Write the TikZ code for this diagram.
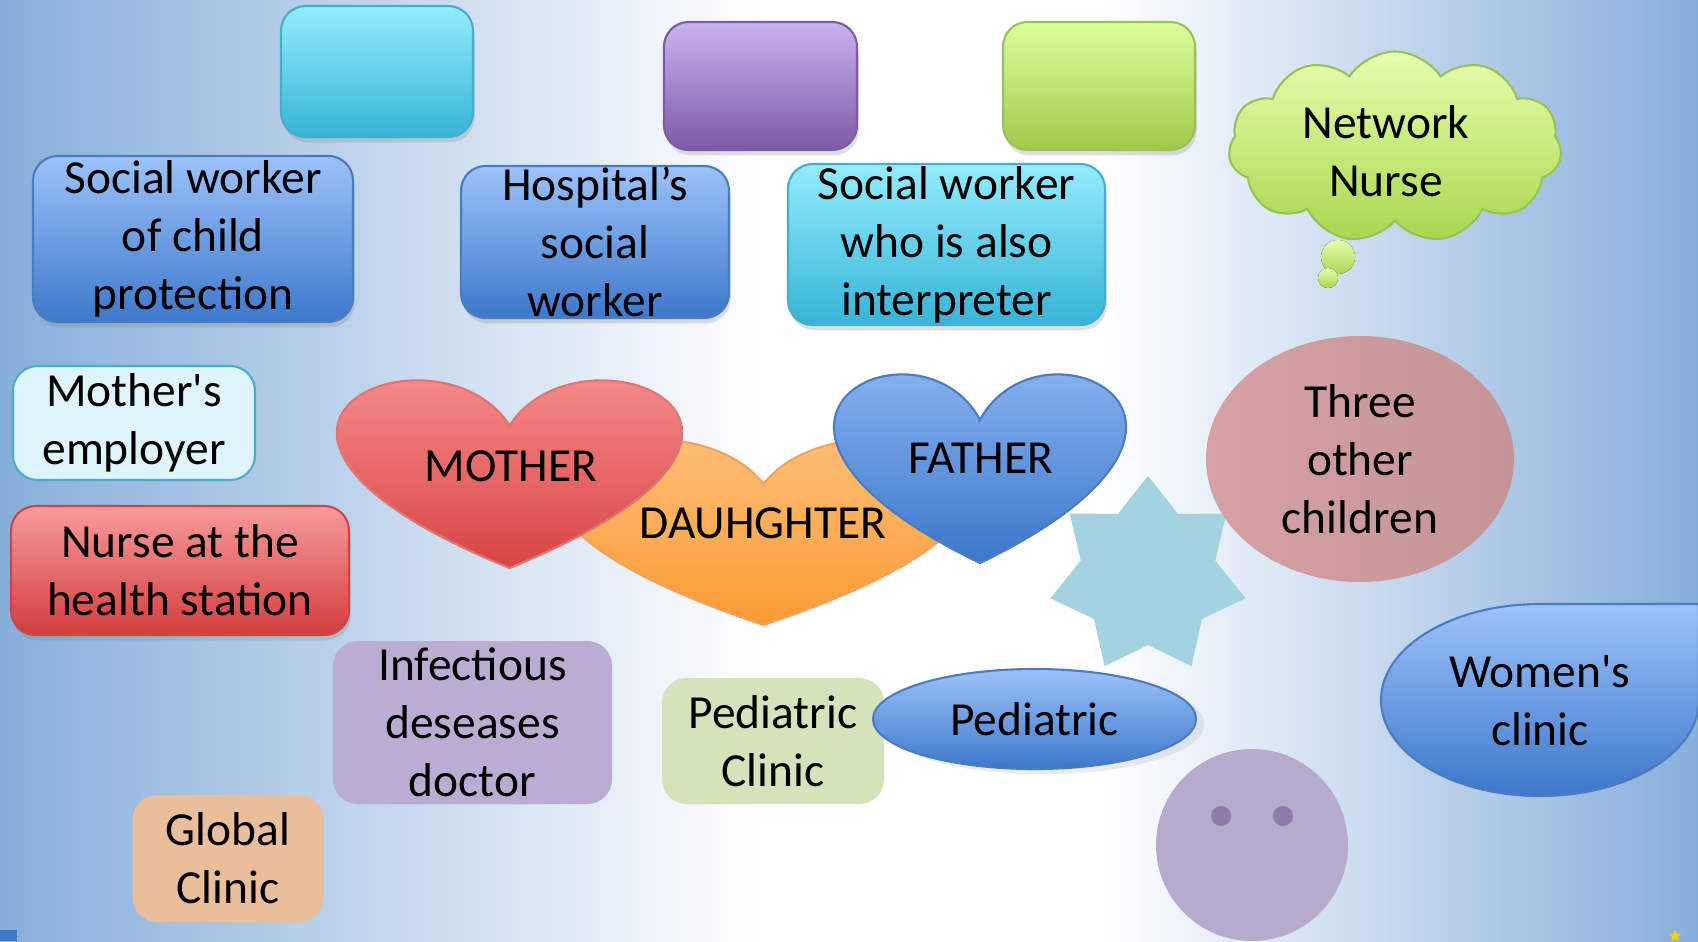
\documentclass[tikz,border=0pt]{standalone}
\usepackage{fontspec}
\setmainfont{Carlito}
\usetikzlibrary{shapes.geometric,shapes.symbols,shadows}

\definecolor{bgblue}{HTML}{86AEDA}
\definecolor{bgmid}{HTML}{C9DBEE}
\definecolor{bluetop}{HTML}{9CC2F9}
\definecolor{bluebot}{HTML}{3D78CB}
\definecolor{blueline}{HTML}{4A7CBF}
\definecolor{cyantop}{HTML}{94ECFC}
\definecolor{cyanbot}{HTML}{36B4D6}
\definecolor{cyanline}{HTML}{45AECD}
\definecolor{purptop}{HTML}{C9B3EE}
\definecolor{purpbot}{HTML}{7D59A8}
\definecolor{purpline}{HTML}{7A5CA5}
\definecolor{greentop}{HTML}{DCFE9E}
\definecolor{greenbot}{HTML}{9FCA48}
\definecolor{greenline}{HTML}{98C256}
\definecolor{redtop}{HTML}{F89B9B}
\definecolor{redbot}{HTML}{D23D3D}
\definecolor{redline}{HTML}{C94747}
\definecolor{mtop}{HTML}{FF9F9F}
\definecolor{mbot}{HTML}{D84545}
\definecolor{mline}{HTML}{E07575}
\definecolor{dtop}{HTML}{FFCB8E}
\definecolor{dbot}{HTML}{F99A33}
\definecolor{dline}{HTML}{F0A260}
\definecolor{empfill}{HTML}{DDF4FA}
\definecolor{infect}{HTML}{BAADD1}
\definecolor{pedgreen}{HTML}{D5E3BB}
\definecolor{tan}{HTML}{E8BE9B}
\definecolor{rose}{HTML}{D5A1A4}
\definecolor{starblue}{HTML}{A3D3E0}
\definecolor{smile}{HTML}{B6AACD}
\definecolor{eye}{HTML}{8F7BA8}
\definecolor{cloudtop}{HTML}{E6FEAE}
\definecolor{cloudbot}{HTML}{A8D74E}
\definecolor{gold}{HTML}{F2CE1B}

% heart: [style]{centre x}{top y}{width}{height}
\newcommand{\heartshape}[5][]{%
  \path[#1, shift={(#2,#3)}, xscale=#4, yscale=#5] (0,-0.25)
    .. controls (0.2083,0.3333) and (1.0208,-0.25) .. (0,-1)
    .. controls (-1.0208,-0.25) and (-0.2083,0.3333) .. cycle;}

\tikzset{
  every node/.style={font=\fontsize{13.5}{16.5}\selectfont, align=center, inner sep=0pt},
  wh/.style 2 args={minimum width={#1*0.01cm}, minimum height={#2*0.01cm}},
  box/.style={rectangle, rounded corners=7pt},
  shadebox/.style n args={3}{box, top color=#1, bottom color=#2, draw=#3, line width=0.6pt,
    drop shadow={opacity=0.25, shadow xshift=0.5pt, shadow yshift=-1.5pt}},
  hearty/.style n args={3}{top color=#1, bottom color=#2, draw=#3, line width=0.6pt}
}

\begin{document}
\begin{tikzpicture}[x=0.01cm, y=0.01cm]
  \useasboundingbox (0,0) rectangle (1698,941);
  % background
  \shade[left color=bgblue, middle color=bgmid, right color=white] (0,0) rectangle (760,941);
  \fill[white] (760,0) rectangle (1100,941);
  \shade[left color=white, middle color=bgmid, right color=bgblue] (1100,0) rectangle (1698,941);
  \fill[bluebot] (0,0) rectangle (17,11);

  % top row
  \node[shadebox={cyantop}{cyanbot}{cyanline}, wh={192}{131}] (topcyan) at (377,869.5) {};
  \node[shadebox={purptop}{purpbot}{purpline}, wh={193}{128}] (toppurple) at (760.5,855) {};
  \node[shadebox={greentop}{greenbot}{greenline}, wh={192}{128}] (topgreen) at (1099,855) {};

  \node[shadebox={bluetop}{bluebot}{blueline}, wh={320}{166}] (swchild) at (193,702)
    {Social worker\\of child\\protection};
  \node[shadebox={bluetop}{bluebot}{blueline}, wh={268}{152}] (hospital) at (595,699)
    {Hospital’s\\social\\worker};
  \node[shadebox={cyantop}{cyanbot}{cyanline}, wh={317}{161}] (interp) at (946.5,696.5)
    {Social worker\\who is also\\interpreter};

  % network nurse cloud
  \node[cloud, cloud puffs=11, cloud puff arc=115, aspect=1.75, wh={333}{191},
    top color=cloudtop, bottom color=cloudbot, draw=greenline, line width=0.6pt] (cloud)
    at (1395,794) {};
  \node (netnurse) at (1386,790) {Network\\Nurse};
  \fill[top color=cloudtop, bottom color=cloudbot] (1338,684) circle (17);
  \fill[top color=cloudtop, bottom color=cloudbot] (1328,663) circle (10);

  % left column
  \node[box, fill=empfill, draw=cyanline, line width=0.6pt, wh={242}{114}] (employer) at (134,518)
    {Mother\textquotesingle s\\employer};
  \node[shadebox={redtop}{redbot}{redline}, wh={338}{129}] (nurse) at (180,370.5)
    {Nurse at the\\health station};

  % family hearts
  \heartshape[hearty={dtop}{dbot}{dline}]{763.5}{504}{412}{188}
  \heartshape[hearty={mtop}{mbot}{mline}]{509.5}{563}{343}{190}
  \heartshape[hearty={bluetop}{bluebot}{blueline}]{980}{569}{290}{191}
  \node (mother) at (511,475) {MOTHER};
  \node (daughter) at (763,418) {DAUHGHTER};
  \node (father) at (981,483) {FATHER};

  % right side
  \node[star, star points=7, star point ratio=1.45, minimum size=2cm, fill=starblue] (sevenstar)
    at (1148,365) {};
  \node[ellipse, left color=rose, right color=rose!92!black, wh={308}{246}] (others) at (1360,482)
    {Three\\other\\children};
  \path[top color=bluetop, bottom color=bluebot, draw=blueline, line width=0.6pt]
    (1381,241) arc[start angle=180, end angle=90, x radius=159, y radius=96]
    .. controls (1640,337) .. (1699,337) .. controls (1699,300) .. (1699,241)
    arc[start angle=0, end angle=-180, x radius=159, y radius=96] -- cycle;
  \node (women) at (1540,240) {Women\textquotesingle s\\clinic};

  % bottom
  \node[box, fill=infect, wh={279}{163}] (infectious) at (472.5,218.5)
    {Infectious\\deseases\\doctor};
  \node[box, fill=pedgreen, wh={222}{126}] (pedclinic) at (773,200) {Pediatric\\Clinic};
  \node[box, fill=tan, wh={191}{127}] (global) at (228,82.5) {Global\\Clinic};
  \fill[smile] (1252,96) circle (96);
  \fill[eye] (1221,125) circle (10);
  \fill[eye] (1283,125) circle (10);
  \node[ellipse, top color=bluetop, bottom color=bluebot, draw=blueline, line width=0.6pt,
    wh={323}{100}, drop shadow={opacity=0.15, shadow yshift=-1.5pt}] (pediatric) at (1034.5,222)
    {Pediatric};

  \node[star, star points=5, star point ratio=2.2, minimum size=0.13cm, fill=gold] (goldstar)
    at (1675,5) {};
\end{tikzpicture}
\end{document}
